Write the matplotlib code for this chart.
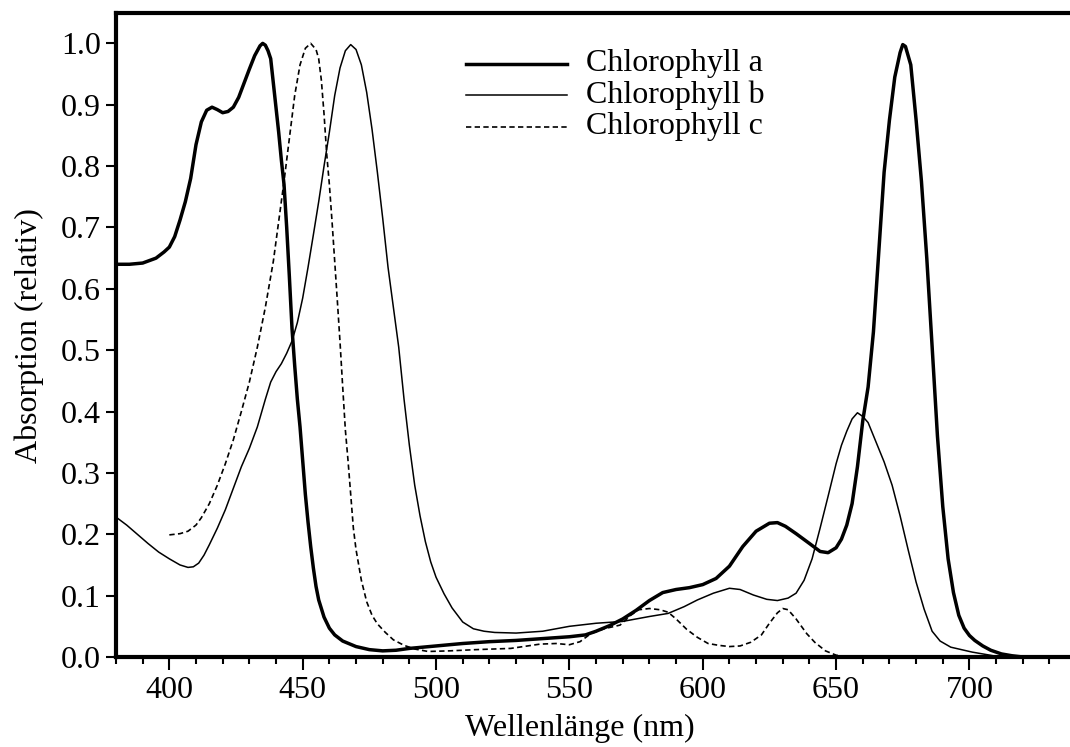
import matplotlib
matplotlib.use('Agg')
import matplotlib.pyplot as plt
from matplotlib.ticker import MultipleLocator, FormatStrFormatter

plt.rcParams['font.family'] = 'Liberation Serif'
plt.rcParams['font.size'] = 23

# Chlorophyll a absorption spectrum (nm, relative absorption)
wl_a = [380, 385, 390, 395, 398, 400, 402, 404, 406, 408, 410, 412, 414, 416, 418,
        420, 422, 424, 426, 428, 430, 432, 434, 435, 436, 437, 438, 440, 441, 442,
        443, 444, 445, 446, 447, 448, 449, 450, 451, 452, 453, 454, 455, 456, 458,
        460, 462, 465, 470, 475, 480, 485, 490, 500, 510, 520, 530, 540, 550, 556,
        560, 565, 570, 575, 580, 585, 590, 595, 600, 605, 610, 615, 620, 625, 628,
        631, 635, 640, 644, 647, 650, 652, 654, 656, 658, 660, 662, 664, 666, 668,
        670, 672, 674, 675, 676, 678, 680, 682, 684, 686, 688, 690, 692, 694, 696,
        698, 700, 702, 705, 708, 712, 716, 720]
abs_a = [0.640, 0.640, 0.642, 0.650, 0.660, 0.668, 0.685, 0.712, 0.742, 0.780, 0.835,
         0.872, 0.891, 0.896, 0.892, 0.887, 0.889, 0.896, 0.912, 0.935, 0.958, 0.980,
         0.996, 1.000, 0.997, 0.988, 0.975, 0.895, 0.855, 0.810, 0.770, 0.700, 0.620,
         0.535, 0.475, 0.420, 0.375, 0.320, 0.265, 0.220, 0.180, 0.145, 0.115, 0.093,
         0.065, 0.047, 0.036, 0.026, 0.017, 0.012, 0.010, 0.011, 0.014, 0.018, 0.022,
         0.025, 0.027, 0.030, 0.033, 0.036, 0.042, 0.051, 0.062, 0.076, 0.092, 0.105,
         0.110, 0.113, 0.118, 0.128, 0.148, 0.180, 0.205, 0.218, 0.219, 0.213, 0.201,
         0.185, 0.172, 0.170, 0.178, 0.192, 0.215, 0.250, 0.310, 0.385, 0.440, 0.530,
         0.660, 0.790, 0.875, 0.945, 0.985, 0.998, 0.995, 0.965, 0.875, 0.775, 0.650,
         0.506, 0.360, 0.245, 0.160, 0.105, 0.068, 0.047, 0.035, 0.027, 0.018, 0.011,
         0.005, 0.002, 0.000]

# Chlorophyll b
wl_b = [380, 384, 388, 392, 396, 400, 404, 407, 409, 411, 413, 415, 418, 421, 424,
        427, 430, 433, 436, 438, 440, 442, 444, 446, 448, 450, 452, 454, 456, 458,
        460, 462, 464, 466, 468, 470, 472, 474, 476, 478, 480, 482, 484, 486, 488,
        490, 492, 494, 496, 498, 500, 503, 506, 510, 514, 518, 522, 530, 540, 550,
        560, 570, 580, 587, 593, 598, 604, 610, 614, 619, 624, 628, 632, 635, 638,
        641, 644, 647, 650, 652, 654, 656, 658, 660, 662, 665, 668, 671, 674, 677,
        680, 683, 686, 689, 693, 697, 701, 705, 709, 712]
abs_b = [0.228, 0.215, 0.200, 0.185, 0.171, 0.160, 0.150, 0.146, 0.147, 0.153, 0.166,
         0.183, 0.210, 0.240, 0.275, 0.310, 0.340, 0.375, 0.420, 0.448, 0.465, 0.478,
         0.495, 0.515, 0.545, 0.585, 0.635, 0.688, 0.742, 0.800, 0.855, 0.915, 0.960,
         0.988, 0.998, 0.990, 0.965, 0.920, 0.860, 0.790, 0.715, 0.635, 0.570, 0.505,
         0.420, 0.345, 0.280, 0.230, 0.188, 0.155, 0.130, 0.103, 0.080, 0.057, 0.046,
         0.042, 0.040, 0.039, 0.042, 0.050, 0.055, 0.058, 0.066, 0.071, 0.082, 0.093,
         0.104, 0.112, 0.110, 0.101, 0.094, 0.092, 0.096, 0.104, 0.125, 0.160, 0.210,
         0.262, 0.315, 0.345, 0.368, 0.388, 0.398, 0.392, 0.382, 0.350, 0.318, 0.280,
         0.230, 0.175, 0.122, 0.078, 0.042, 0.026, 0.016, 0.012, 0.008, 0.005, 0.002,
         0.000]

# Chlorophyll c
wl_c = [400, 404, 407, 410, 412, 415, 418, 421, 424, 427, 430, 433, 436, 439, 441,
        443, 445, 447, 449, 451, 453, 455, 456, 457, 458, 459, 460, 461, 462, 463,
        464, 465, 466, 467, 468, 469, 470, 472, 474, 476, 478, 481, 484, 488, 492,
        497, 505, 515, 528, 539, 545, 550, 554, 558, 563, 569, 573, 576, 580, 584,
        587, 590, 594, 598, 602, 606, 610, 614, 618, 622, 625, 628, 630, 632, 635,
        639, 642, 646, 650, 654]
abs_c = [0.199, 0.201, 0.205, 0.215, 0.227, 0.250, 0.280, 0.315, 0.354, 0.400, 0.448,
         0.505, 0.570, 0.645, 0.710, 0.775, 0.845, 0.915, 0.965, 0.992, 1.000, 0.990,
         0.975, 0.940, 0.885, 0.820, 0.770, 0.710, 0.645, 0.580, 0.513, 0.440, 0.370,
         0.320, 0.265, 0.210, 0.175, 0.125, 0.090, 0.068, 0.054, 0.040, 0.028, 0.019,
         0.013, 0.009, 0.010, 0.012, 0.014, 0.021, 0.022, 0.020, 0.025, 0.038, 0.046,
         0.052, 0.068, 0.077, 0.079, 0.077, 0.073, 0.062, 0.045, 0.032, 0.022, 0.019,
         0.017, 0.018, 0.024, 0.036, 0.055, 0.072, 0.079, 0.077, 0.062, 0.038, 0.024,
         0.010, 0.003, 0.000]

labels = ['Chlorophyll a', 'Chlorophyll b', 'Chlorophyll c']

fig = plt.figure(figsize=(10.7, 7.47), dpi=100)
ax = fig.add_axes([116 / 1070, 90 / 747, 954 / 1070, 643.7 / 747])

dash = (0, (3.2, 2.0))
styles = [dict(linewidth=2.5, solid_joinstyle='round'),
          dict(linewidth=1.1, solid_joinstyle='round'),
          dict(linewidth=1.2, linestyle=dash)]

for wl, ab, style in zip([wl_a, wl_b, wl_c], [abs_a, abs_b, abs_c], styles):
    ax.plot(wl, ab, color='black', **style)

ax.set_xlim(380, 737.7)
ax.set_ylim(0, 1.049)

ax.xaxis.set_major_locator(MultipleLocator(50))
ax.xaxis.set_minor_locator(MultipleLocator(10))
ax.yaxis.set_major_locator(MultipleLocator(0.1))
ax.yaxis.set_major_formatter(FormatStrFormatter('%.1f'))

ax.tick_params(axis='x', which='major', direction='out', length=9, width=1.5, pad=5)
ax.tick_params(axis='x', which='minor', direction='out', length=5, width=1.5)
ax.tick_params(axis='y', which='major', direction='out', length=7, width=1.5, pad=4)

for side in ['left', 'bottom', 'top']:
    ax.spines[side].set_linewidth(3)
ax.spines['right'].set_visible(False)

ax.set_xlabel('Wellenlänge (nm)')
ax.xaxis.set_label_coords((580 - 116) / 954, -0.088)
ax.set_ylabel('Absorption (relativ)', labelpad=12)

# Legend drawn by hand so the rows sit tightly together
rows = [0.922, 0.873, 0.824]
for label, style, y in zip(labels, styles, rows):
    ax.plot([0.367, 0.473], [y, y], color='black', transform=ax.transAxes, **style)
    ax.text(0.493, y, label, transform=ax.transAxes, va='center', ha='left')

plt.savefig('out.png', dpi=100)
